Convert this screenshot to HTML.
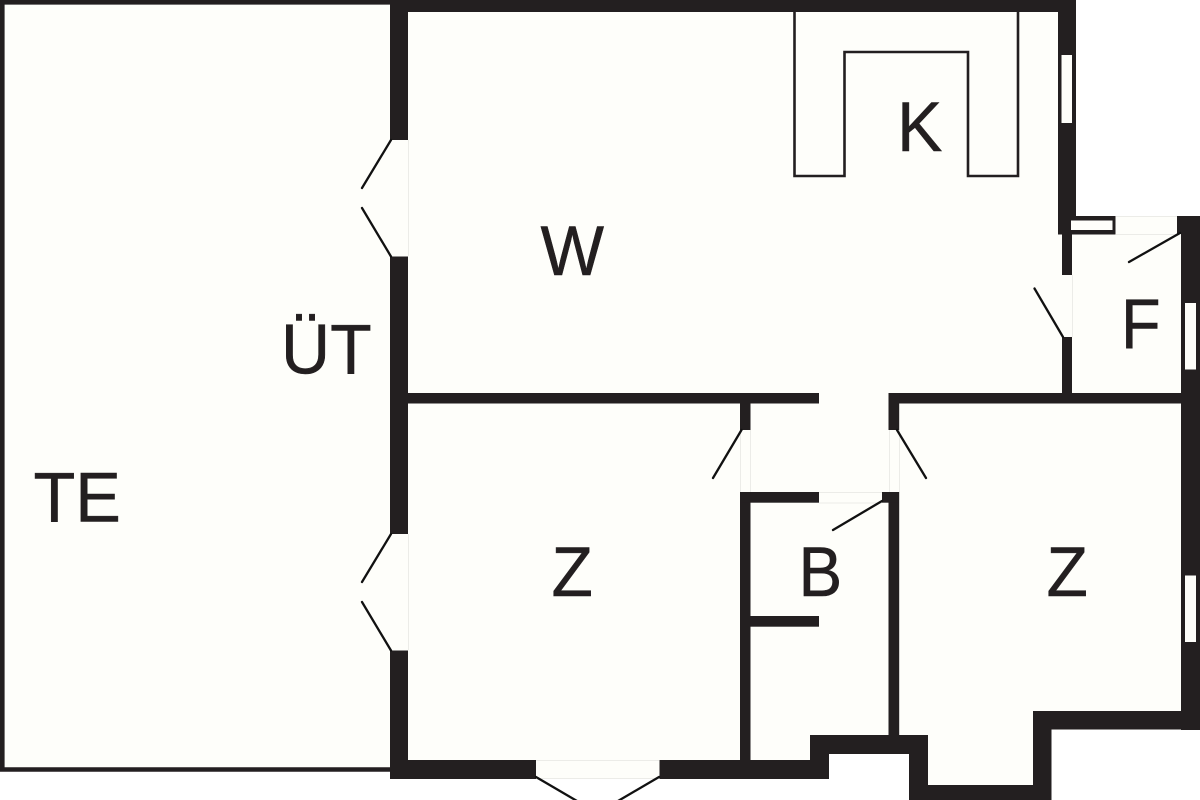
<!DOCTYPE html>
<html>
<head>
<meta charset="utf-8">
<style>
html,body{margin:0;padding:0;background:#fff;width:1200px;height:800px;overflow:hidden}
svg{display:block}
text{font-family:"Liberation Sans",Arial,sans-serif;font-size:70.5px;fill:#231f20;stroke:#231f20;stroke-width:.5px}
</style>
</head>
<body>
<svg width="1200" height="800" viewBox="0 0 1200 800" xmlns="http://www.w3.org/2000/svg">
<rect width="1200" height="800" fill="#fff"/>
<!-- interior fill -->
<path fill="#fefefa" d="M0 0H1076V216H1200V730H1051V785H928V754H829V779H390V771H0Z"/>
<!-- terrace outline (open on the house side) -->
<path d="M392 2.3H2.3V769.5H392" fill="none" stroke="#231f20" stroke-width="4.6"/>
<!-- faint door/window frames -->
<g fill="none" stroke="#ecece8" stroke-width="1">
<path d="M408.5 140V256M408.5 534V650"/>
<path d="M740.5 430V492M750.5 430V492M889.5 430V492M899.5 430V492"/>
<path d="M819 492.5H882M819 503H882"/>
<path d="M1116 216.5H1177M1116 234.5H1177"/>
<path d="M1072.5 275V337"/>
<path d="M536 760.5H659M536 778.5H659"/>
</g>
<!-- walls -->
<g fill="#231f20">
<rect x="390" y="0" width="686" height="12"/>
<rect x="390" y="0" width="18" height="140"/>
<rect x="390" y="256.5" width="18" height="277.5"/>
<rect x="390" y="650.5" width="18" height="128.5"/>
<rect x="390" y="760" width="146" height="19"/>
<rect x="659.5" y="760" width="169.5" height="19"/>
<rect x="1058" y="0" width="18" height="234.5"/>
<rect x="1062" y="234" width="10" height="41"/>
<rect x="1062" y="337" width="10" height="66"/>
<rect x="408" y="393" width="411" height="10.5"/>
<rect x="888.5" y="393" width="300" height="10.5"/>
<rect x="1177" y="216" width="23" height="18"/>
<rect x="1181" y="216" width="19" height="514"/>
<rect x="1033" y="711" width="167" height="18.5"/>
<rect x="1033" y="711" width="18.5" height="89"/>
<rect x="909" y="785" width="142" height="15"/>
<rect x="909" y="735" width="19" height="65"/>
<rect x="810" y="735" width="118" height="19"/>
<rect x="810" y="735" width="19" height="44"/>
<rect x="740" y="403" width="10.5" height="27"/>
<rect x="740" y="492" width="10.5" height="268"/>
<rect x="740" y="492" width="79" height="10.7"/>
<rect x="750" y="616" width="69" height="10.7"/>
<rect x="888.5" y="393" width="10.7" height="37"/>
<rect x="888.5" y="492" width="10.7" height="243"/>
<rect x="882" y="492" width="17" height="10.7"/>
<!-- small side window frame -->
<rect x="1070" y="216" width="45.5" height="18.5"/>
</g>
<!-- windows -->
<g fill="#fefefa">
<rect x="1061.5" y="55" width="10.5" height="68"/>
<rect x="1071" y="220.5" width="41.5" height="9.5"/>
<rect x="1185" y="303" width="11" height="66.5"/>
<rect x="1185" y="575.5" width="11" height="66.5"/>
</g>
<!-- kitchen counter -->
<path fill="none" stroke="#231f20" stroke-width="2.6" d="M794.5 12V176H844.5V52H968V176H1018V12"/>
<!-- door leaves -->
<g stroke="#111" stroke-width="2.3" stroke-linecap="round" fill="none">
<path d="M391 140L362 188M391 256.5L362 208"/>
<path d="M391 534L362 582M391 650.5L362 602"/>
<path d="M741.5 430L713 478M897 430L926 478"/>
<path d="M882 501L833 530"/>
<path d="M1180 233L1129 262"/>
<path d="M1063 337L1034.5 288.5"/>
<path d="M536 777L577 801M659 777L618 801"/>
</g>
<!-- labels -->
<text transform="translate(33.5 521.5) scale(.97 1)">TE</text>
<text transform="translate(281 373.5) scale(.965 1)">ÜT</text>
<text transform="translate(540.5 275) scale(.955 1)">W</text>
<text transform="translate(897 151) scale(.965 1)">K</text>
<text transform="translate(1121 348) scale(.92 1)">F</text>
<text transform="translate(798.5 596) scale(.93 1)">B</text>
<text transform="translate(551.5 596) scale(.96 1)">Z</text>
<text transform="translate(1046.5 596) scale(.96 1)">Z</text>
</svg>
</body>
</html>
